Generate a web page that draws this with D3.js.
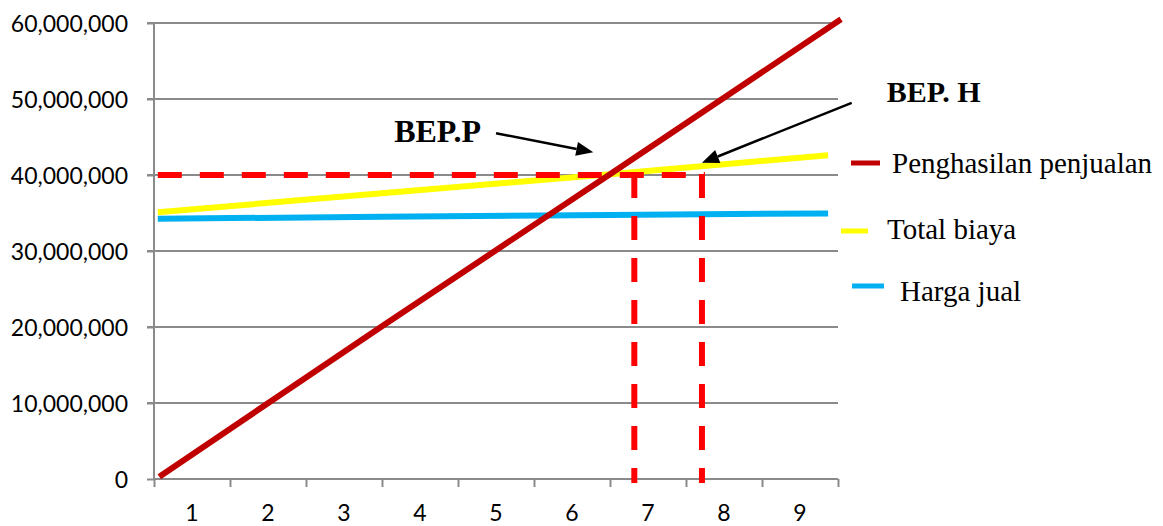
<!DOCTYPE html>
<html>
<head>
<meta charset="utf-8">
<script src="https://cdn.jsdelivr.net/npm/d3@7"></script>
<style>
  html, body { margin: 0; padding: 0; background: #ffffff; }
  svg { display: block; }
</style>
</head>
<body>
<svg id="chart" width="1163" height="526"></svg>
<script>
// ---- data ----
const categories = ["1", "2", "3", "4", "5", "6", "7", "8", "9"];
const yTicks = [0, 10000000, 20000000, 30000000, 40000000, 50000000, 60000000];

// series sampled along the volume axis (0 = left edge, 9 = right edge)
const penghasilanX = [0.07, 3, 6, 9.04];
const penghasilanY = [300000, 20100000, 40100000, 60500000];
const totalBiayaX = [0.05, 3, 6, 8.87];
const totalBiayaY = [35100000, 37600000, 40100000, 42600000];
const hargaJualX = [0.05, 3, 6, 8.87];
const hargaJualY = [34250000, 34500000, 34750000, 34950000];

// break-even guides
const bepLevel = 40000000;
const bepStartX = 0.05;
const bepX = [6.32, 7.21];

// annotations: [label, labelX, labelY, arrowFromX, arrowFromY, arrowToX, arrowToY]
const annotLabels = ["BEP.P", "BEP. H"];
const annotLabelX = [3.16, 9.64];
const annotLabelY = [44300000, 49600000];
const arrowFromX = [4.5, 9.18];
const arrowFromY = [45500000, 49500000];
const arrowToX = [5.78, 7.21];
const arrowToY = [43000000, 41600000];

const legendNames = ["Penghasilan penjualan", "Total biaya", "Harga jual"];
const seriesColors = ["#C00000", "#FFFF00", "#00B0F0"];

// ---- layout ----
const W = 1163, H = 526;
const plotLeft = 154, plotRight = 838, plotTop = 23, plotBottom = 479;
const gridColor = "#8A8A8A";
const numFont = "Lato, 'Liberation Sans', Arial, sans-serif";
const serifFont = "'Liberation Serif', 'Times New Roman', serif";

const svg = d3.select("#chart");

const x = d3.scaleLinear().domain([0, 9]).range([plotLeft, plotRight]);
const xBand = d3.scaleBand().domain(categories).range([plotLeft, plotRight]);
const y = d3.scaleLinear().domain([0, 60000000]).range([plotBottom, plotTop]);

// horizontal gridlines with short ticks left of the axis
svg.append("g")
  .selectAll("line")
  .data(yTicks.filter(d => d > 0))
  .join("line")
  .attr("x1", plotLeft - 7)
  .attr("x2", plotRight)
  .attr("y1", d => y(d))
  .attr("y2", d => y(d))
  .attr("stroke", gridColor)
  .attr("stroke-width", 2);

// y axis
const yAxis = d3.axisLeft(y)
  .tickValues(yTicks)
  .tickSize(7)
  .tickPadding(19)
  .tickFormat(d3.format(","));
const gy = svg.append("g")
  .attr("transform", `translate(${plotLeft},0)`)
  .call(yAxis);
gy.select(".domain").attr("stroke", gridColor).attr("stroke-width", 2)
  .attr("d", `M0,${plotTop}V${plotBottom}`);
gy.selectAll(".tick line").attr("stroke", gridColor).attr("stroke-width", 2);
gy.selectAll(".tick text")
  .attr("font-family", numFont)
  .attr("font-size", 23)
  .attr("fill", "#000")
  .attr("dy", "0.35em");

// x axis: boundary ticks and centred category labels
const xAxisTicks = d3.axisBottom(x)
  .tickValues(d3.range(0, 10))
  .tickSize(8)
  .tickFormat("");
const gx = svg.append("g")
  .attr("transform", `translate(0,${plotBottom})`)
  .call(xAxisTicks);
gx.select(".domain").attr("stroke", gridColor).attr("stroke-width", 2)
  .attr("d", `M${plotLeft},0H${plotRight}`);
gx.selectAll(".tick line").attr("stroke", gridColor).attr("stroke-width", 2);

const xAxisLabels = d3.axisBottom(xBand).tickSize(0).tickPadding(26);
const gxl = svg.append("g")
  .attr("transform", `translate(0,${plotBottom})`)
  .call(xAxisLabels);
gxl.select(".domain").remove();
gxl.selectAll(".tick text")
  .attr("font-family", numFont)
  .attr("font-size", 23)
  .attr("fill", "#000");

// series lines
const line = d3.line().x(d => x(d[0])).y(d => y(d[1]));
const seriesPts = [
  d3.zip(penghasilanX, penghasilanY),
  d3.zip(totalBiayaX, totalBiayaY),
  d3.zip(hargaJualX, hargaJualY)
];

// draw order: harga jual, total biaya, then guides, then penghasilan on top
[2, 1].forEach(i => {
  svg.append("path")
    .datum(seriesPts[i])
    .attr("d", line)
    .attr("fill", "none")
    .attr("stroke", seriesColors[i])
    .attr("stroke-width", 6);
});

// break-even dashed guides
const guide = svg.append("g")
  .attr("stroke", "#FF0000")
  .attr("stroke-width", 6)
  .attr("stroke-dasharray", "24,18")
  .attr("fill", "none");
guide.append("line")
  .attr("x1", x(bepStartX)).attr("x2", x(d3.max(bepX)) + 3)
  .attr("y1", y(bepLevel)).attr("y2", y(bepLevel));
guide.selectAll("line.v")
  .data(bepX)
  .join("line")
  .attr("class", "v")
  .attr("x1", d => x(d)).attr("x2", d => x(d))
  .attr("y1", y(bepLevel) - 1).attr("y2", y(0) + 4);

svg.append("path")
  .datum(seriesPts[0])
  .attr("d", line)
  .attr("fill", "none")
  .attr("stroke", seriesColors[0])
  .attr("stroke-width", 6);

// annotation arrows
annotLabels.forEach((lab, i) => {
  const x0 = x(arrowFromX[i]), y0 = y(arrowFromY[i]);
  const x1 = x(arrowToX[i]), y1 = y(arrowToY[i]);
  const ang = Math.atan2(y1 - y0, x1 - x0);
  const headLen = 17, headHalf = 7;
  const bx = x1 - headLen * Math.cos(ang), by = y1 - headLen * Math.sin(ang);
  svg.append("line")
    .attr("x1", x0).attr("y1", y0)
    .attr("x2", bx).attr("y2", by)
    .attr("stroke", "#000").attr("stroke-width", 2.5);
  const px = -Math.sin(ang), py = Math.cos(ang);
  svg.append("polygon")
    .attr("points", [
      [x1, y1],
      [bx + headHalf * px, by + headHalf * py],
      [bx - headHalf * px, by - headHalf * py]
    ].map(p => p.join(",")).join(" "))
    .attr("fill", "#000");
  svg.append("text")
    .attr("x", x(annotLabelX[i]))
    .attr("y", y(annotLabelY[i]))
    .attr("font-family", serifFont)
    .attr("font-weight", "bold")
    .attr("font-size", i === 0 ? 32 : 30)
    .attr("fill", "#000")
    .text(lab);
});

// legend
const legendLayout = [
  { x1: 851, x2: 880, ly: 163, tx: 892, ty: 173 },
  { x1: 841, x2: 868, ly: 231, tx: 887, ty: 239 },
  { x1: 852, x2: 884, ly: 286, tx: 900, ty: 301 }
];
const legend = svg.append("g");
legendNames.forEach((name, i) => {
  const L = legendLayout[i];
  legend.append("line")
    .attr("x1", L.x1).attr("x2", L.x2)
    .attr("y1", L.ly).attr("y2", L.ly)
    .attr("stroke", seriesColors[i])
    .attr("stroke-width", 5);
  legend.append("text")
    .attr("x", L.tx).attr("y", L.ty)
    .attr("font-family", serifFont)
    .attr("font-size", 29)
    .attr("fill", "#000")
    .text(name);
});
</script>
</body>
</html>
